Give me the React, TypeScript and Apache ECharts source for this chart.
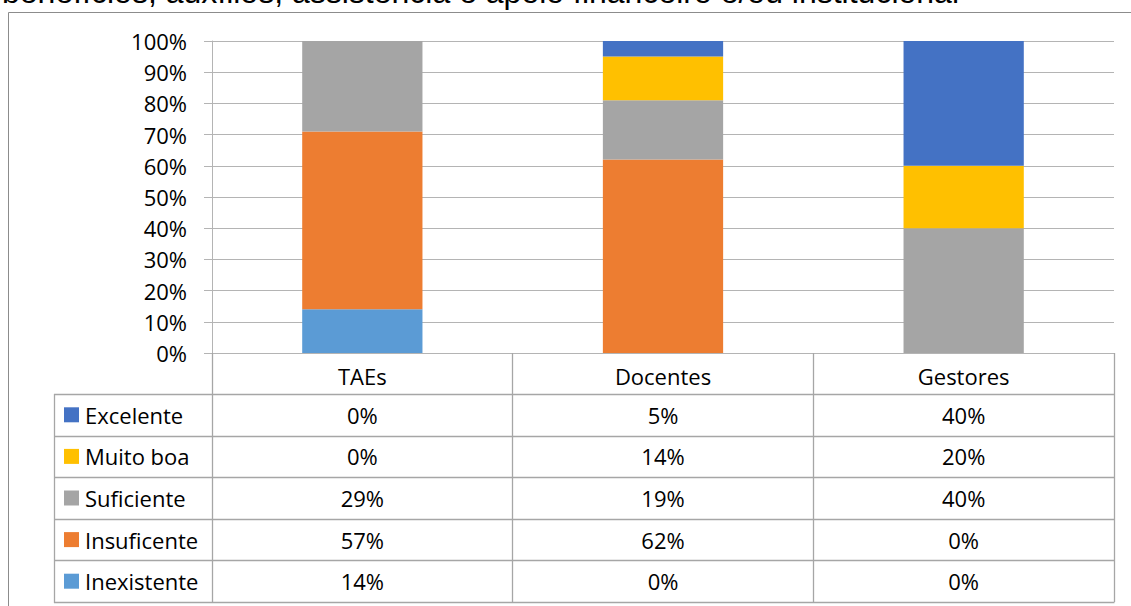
import React, { useEffect, useRef } from "react";
import * as echarts from "echarts";

const titleText = "benefícios, auxílios, assistência e apoio financeiro e/ou institucional";
const categories = ["TAEs", "Docentes", "Gestores"];
const seriesNames = ["Inexistente", "Insuficente", "Suficiente", "Muito boa", "Excelente"];
const inexistente = [14, 0, 0];
const insuficente = [57, 62, 0];
const suficiente = [29, 19, 40];
const muitoBoa = [0, 14, 20];
const excelente = [0, 5, 40];
const seriesData = [inexistente, insuficente, suficiente, muitoBoa, excelente];
const colors = ["#5B9BD5", "#ED7D31", "#A5A5A5", "#FFC000", "#4472C4"];

const W = 1131;
const H = 606;
const gLeft = 212;
const gRight = 1114;
const gTop = 41;
const gBottom = 353;
const tableTop = 394;
const tableBottom = 602;
const tableLeft = 54;
const font = "'Open Sans', sans-serif";
const fs = 22;
const lineColor = "#a6a6a6";

export default function App() {
  const ref = useRef<HTMLDivElement>(null);
  useEffect(() => {
    if (!ref.current) return;
    const chart = echarts.init(ref.current, null, { renderer: "svg" });
    const rowH = (tableBottom - tableTop) / seriesNames.length;
    const colW = (gRight - gLeft) / categories.length;
    const graphics: any[] = [];
    graphics.push({
      type: "rect",
      shape: { x: 8.5, y: 12.5, width: 1300, height: 800 },
      style: { fill: "none", stroke: "#8c8c8c", lineWidth: 1 },
      z: 0,
    });
    graphics.push({
      type: "text",
      x: 2,
      y: 8,
      style: {
        text: titleText,
        font: "32px 'Liberation Sans', Arial, sans-serif",
        fill: "#000",
        verticalAlign: "bottom",
        align: "left",
      },
    });
    // table horizontal lines
    for (let i = 0; i <= seriesNames.length; i++) {
      const y = Math.round(tableTop + i * rowH) + 0.5;
      graphics.push({
        type: "line",
        shape: { x1: tableLeft, y1: y, x2: gRight + 0.5, y2: y },
        style: { stroke: lineColor, lineWidth: 1.3 },
      });
    }
    graphics.push({
      type: "line",
      shape: { x1: tableLeft + 0.5, y1: tableTop, x2: tableLeft + 0.5, y2: tableBottom + 1 },
      style: { stroke: lineColor, lineWidth: 1.3 },
    });
    // rows: top to bottom = reverse series order
    const order = seriesNames.map((_, i) => seriesNames.length - 1 - i);
    order.forEach((si, r) => {
      const cy = tableTop + (r + 0.5) * rowH;
      graphics.push({
        type: "rect",
        shape: { x: 64, y: cy - 7.5, width: 15, height: 15 },
        style: { fill: colors[si] },
      });
      graphics.push({
        type: "text",
        x: 85,
        y: cy,
        style: { text: seriesNames[si], font: `${fs}px ${font}`, fill: "#000", verticalAlign: "middle", align: "left" },
      });
      seriesData[si].forEach((v, c) => {
        graphics.push({
          type: "text",
          x: gLeft + (c + 0.5) * colW,
          y: cy,
          style: { text: `${v}%`, font: `${fs}px ${font}`, fill: "#000", verticalAlign: "middle", align: "center" },
        });
      });
    });

    chart.setOption({
      animation: false,
      grid: {
        left: gLeft,
        right: W - gRight,
        top: gTop,
        bottom: H - gBottom,
        outerBoundsMode: "none",
      },
      xAxis: {
        type: "category",
        data: categories,
        axisLine: { show: true, lineStyle: { color: "#b4b4b4", width: 1 } },
        axisTick: { show: true, length: tableBottom - gBottom, lineStyle: { color: lineColor, width: 1.3 } },
        axisLabel: {
          color: "#000",
          fontFamily: font,
          fontSize: fs,
          margin: 23,
          verticalAlign: "middle",
        },
      },
      yAxis: {
        type: "value",
        min: 0,
        max: 100,
        interval: 10,
        axisLine: { show: true, lineStyle: { color: "#b4b4b4", width: 1 } },
        axisTick: { show: true, length: 8, lineStyle: { color: "#b4b4b4" } },
        splitLine: { show: true, lineStyle: { color: "#b4b4b4", width: 1 } },
        axisLabel: {
          color: "#000",
          fontFamily: font,
          fontSize: fs,
          margin: 25,
          formatter: "{value}%",
        },
      },
      series: seriesNames.map((name, i) => ({
        name,
        type: "bar",
        stack: "total",
        data: seriesData[i],
        barWidth: "40%",
        itemStyle: { color: colors[i] },
      })),
      graphic: graphics,
    });
    return () => chart.dispose();
  }, []);
  return (
    <div
      ref={ref}
      style={{ position: "absolute", left: 0, top: 0, width: W, height: H, background: "#fff" }}
    />
  );
}
